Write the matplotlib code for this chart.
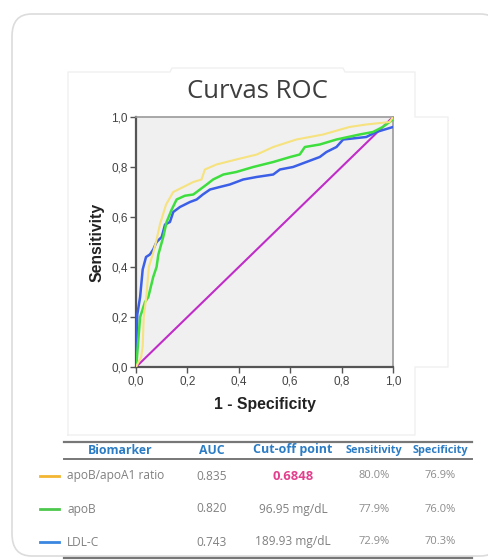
import matplotlib
matplotlib.use('agg')
from matplotlib import pyplot as plt
from matplotlib.patches import FancyBboxPatch
from matplotlib.lines import Line2D
from matplotlib.ticker import FuncFormatter

# ROC curve points (1 - specificity, sensitivity)
ratio_fpr = [0.0, 0.02, 0.026, 0.03, 0.04, 0.05, 0.065, 0.078, 0.093, 0.117, 0.145, 0.184, 0.223,
             0.255, 0.268, 0.313, 0.39, 0.47, 0.534, 0.624, 0.728, 0.83, 0.896, 0.987, 1.0]
ratio_tpr = [0.0, 0.04, 0.083, 0.2, 0.28, 0.4, 0.45, 0.5, 0.57, 0.65, 0.7, 0.72, 0.74,
             0.75, 0.79, 0.81, 0.83, 0.85, 0.88, 0.91, 0.93, 0.96, 0.97, 0.98, 1.0]

apob_fpr = [0.0, 0.003, 0.016, 0.035, 0.048, 0.067, 0.08, 0.087, 0.106, 0.119, 0.139, 0.158, 0.19,
            0.223, 0.249, 0.275, 0.3, 0.34, 0.39, 0.456, 0.534, 0.6, 0.637, 0.657, 0.715, 0.78,
            0.87, 0.922, 0.96, 1.0]
apob_tpr = [0.0, 0.03, 0.2, 0.26, 0.28, 0.36, 0.4, 0.45, 0.52, 0.58, 0.63, 0.67, 0.685,
            0.69, 0.71, 0.73, 0.75, 0.77, 0.78, 0.80, 0.82, 0.84, 0.85, 0.88, 0.89, 0.91,
            0.93, 0.94, 0.96, 0.99]

ldl_fpr = [0.0, 0.003, 0.005, 0.016, 0.026, 0.039, 0.054, 0.067, 0.08, 0.1, 0.113, 0.132, 0.145,
           0.171, 0.21, 0.236, 0.26, 0.288, 0.326, 0.365, 0.417, 0.469, 0.534, 0.56, 0.611,
           0.663, 0.715, 0.741, 0.78, 0.806, 0.896, 0.935, 1.0]
ldl_tpr = [0.0, 0.1, 0.21, 0.28, 0.39, 0.44, 0.45, 0.47, 0.5, 0.52, 0.57, 0.58, 0.62,
           0.64, 0.66, 0.67, 0.69, 0.71, 0.72, 0.73, 0.75, 0.76, 0.77, 0.79, 0.80,
           0.82, 0.84, 0.86, 0.88, 0.91, 0.92, 0.94, 0.96]

# table
headers = ['Biomarker', 'AUC', 'Cut-off point', 'Sensitivity', 'Specificity']
biomarkers = ['apoB/apoA1 ratio', 'apoB', 'LDL-C']
auc_values = ['0.835', '0.820', '0.743']
cutoffs = ['0.6848', '96.95 mg/dL', '189.93 mg/dL']
sensitivities = ['80.0%', '77.9%', '72.9%']
specificities = ['76.9%', '76.0%', '70.3%']
legend_colors = ['#f2b632', '#4cc84c', '#3a86e0']

W, H = 488, 560


def fx(x):
    return x / W


def fy(y):
    return 1 - y / H


fig = plt.figure(figsize=(W / 100, H / 100), dpi=100)
fig.patch.set_facecolor('white')

# outer rounded card
card = FancyBboxPatch((fx(12), fy(556)), fx(500 - 12), (556 - 14) / H,
                      boxstyle='round,pad=0,rounding_size=0.04', transform=fig.transFigure,
                      facecolor='white', edgecolor='#dcdcdc', linewidth=1.2, zorder=-2)
fig.patches.append(card)

# faint outline of the SPSS chart panel
px = [68, 68, 170, 172, 343, 345, 415, 415, 448, 448, 415, 415, 68]
py = [435, 72, 72, 68, 68, 72, 72, 117, 117, 367, 367, 435, 435]
fig.add_artist(Line2D([fx(v) for v in px], [fy(v) for v in py], color='#f0f0f0',
                      lw=1.0, transform=fig.transFigure, zorder=-1))

ax = fig.add_axes([fx(136), fy(367), fx(393) - fx(136), (367 - 117) / H])
ax.set_zorder(1)
ax.set_facecolor('#f0f0f0')

ax.plot([0, 1], [0, 1], color='#c02cc8', lw=1.5, zorder=2)
ax.plot(ldl_fpr, ldl_tpr, color='#3b5fe6', lw=1.8, zorder=3)
ax.plot(apob_fpr, apob_tpr, color='#3fde3f', lw=1.8, zorder=4)
ax.plot(ratio_fpr, ratio_tpr, color='#f6e27e', lw=1.5, zorder=5)

ax.set_xlim(0, 1)
ax.set_ylim(0, 1)
ticks = [0, 0.2, 0.4, 0.6, 0.8, 1.0]
ax.set_xticks(ticks)
ax.set_yticks(ticks)
fmt = FuncFormatter(lambda v, p: ('%.1f' % v).replace('.', ','))
ax.xaxis.set_major_formatter(fmt)
ax.yaxis.set_major_formatter(fmt)
ax.tick_params(direction='out', length=4, width=1.0, color='#555555',
               labelsize=8.5, labelcolor='#444444', pad=2)
for lab in ax.get_xticklabels() + ax.get_yticklabels():
    lab.set_family('Liberation Sans')

for side in ['left', 'bottom']:
    ax.spines[side].set_color('#555555')
    ax.spines[side].set_linewidth(1.6)
for side in ['top', 'right']:
    ax.spines[side].set_color('#9a9a9a')
    ax.spines[side].set_linewidth(1.2)

ax.set_xlabel('1 - Specificity', fontsize=11.3, fontweight='bold', family='Liberation Sans',
              color='#222222', labelpad=7)
ax.set_ylabel('Sensitivity', fontsize=11.3, fontweight='bold', family='Liberation Sans',
              color='#222222', labelpad=5)

fig.text(fx(257), fy(92), 'Curvas ROC', ha='center', va='center', fontsize=18.5,
         family='Open Sans', color='#3e3e3e')

# table rules
for yy, lw in [(442, 1.6), (459, 1.4), (558, 1.6)]:
    fig.add_artist(Line2D([fx(64), fx(472)], [fy(yy), fy(yy)], color='#777777', lw=lw,
                          transform=fig.transFigure))

col_x = [120, 212, 293, 374, 440]
head_sizes = [8.8, 8.8, 9, 7.8, 7.8]
for h, cx, fs in zip(headers, col_x, head_sizes):
    fig.text(fx(cx), fy(450), h, ha='center', va='center', fontsize=fs, fontweight='bold',
             family='Open Sans', color='#2b7cc4')

row_y = [476, 509, 542]
for i in range(len(biomarkers)):
    yy = fy(row_y[i])
    fig.add_artist(Line2D([fx(40), fx(59)], [yy, yy], color=legend_colors[i], lw=2,
                          transform=fig.transFigure))
    fig.text(fx(67), yy, biomarkers[i], ha='left', va='center', fontsize=8.6,
             family='Open Sans', color='#808080')
    fig.text(fx(col_x[1]), yy, auc_values[i], ha='center', va='center', fontsize=8.6,
             family='Open Sans', color='#808080')
    if i == 0:
        fig.text(fx(col_x[2]), yy, cutoffs[i], ha='center', va='center', fontsize=9.4,
                 fontweight='bold', family='Open Sans', color='#e2408e')
    else:
        fig.text(fx(col_x[2]), yy, cutoffs[i], ha='center', va='center', fontsize=8.6,
                 family='Open Sans', color='#808080')
    fig.text(fx(col_x[3]), yy, sensitivities[i], ha='center', va='center', fontsize=8,
             family='Open Sans', color='#8c8c8c')
    fig.text(fx(col_x[4]), yy, specificities[i], ha='center', va='center', fontsize=8,
             family='Open Sans', color='#8c8c8c')

fig.savefig('out.png', dpi=100, facecolor='white')
